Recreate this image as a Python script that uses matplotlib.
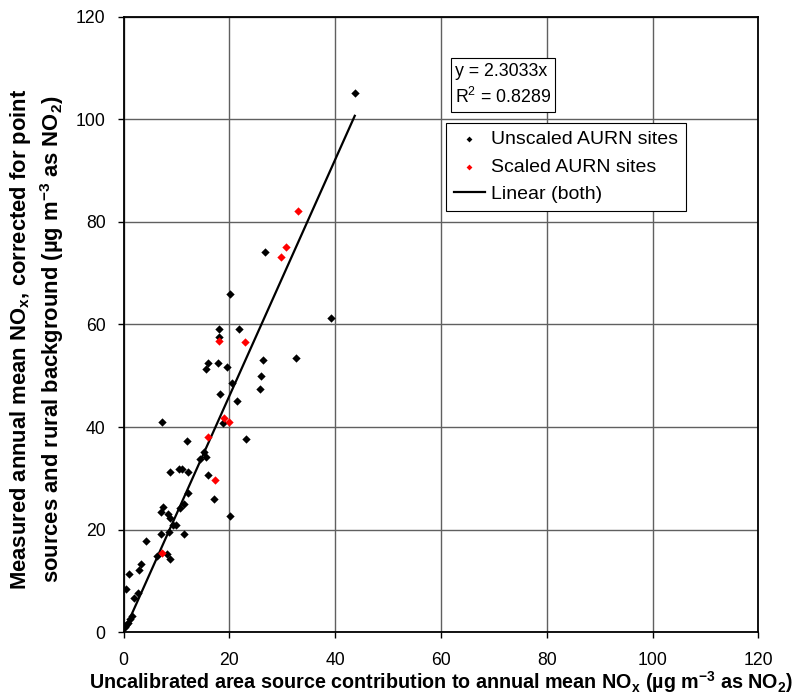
import matplotlib
matplotlib.use("Agg")
import matplotlib.pyplot as plt
import numpy as np

plt.rcParams['font.family'] = ['Liberation Sans', 'DejaVu Sans']
plt.rcParams['mathtext.fontset'] = 'custom'
plt.rcParams['mathtext.rm'] = 'Liberation Sans'
plt.rcParams['mathtext.bf'] = 'Liberation Sans:bold'

# unscaled AURN sites (black)
unscaled_x = [43.7, 26.8, 20.1, 39.2, 18.1, 21.8, 18.0, 26.3, 32.6, 15.9, 15.5,
              17.9, 19.6, 26.0, 20.4, 25.7, 18.3, 21.5, 18.7, 7.2, 23.2, 12.0,
              15.2, 15.5, 14.4, 8.8, 10.5, 11.1, 12.2, 16.0, 12.2, 17.1, 11.5,
              10.7, 7.4, 7.0, 8.3, 8.8, 20.1, 9.4, 9.9, 8.6, 7.1, 11.4, 4.2,
              6.4, 8.2, 8.8, 3.3, 2.9, 1.1, 0.4, 2.8, 1.9, 1.5, 1.2, 0.8, 0.5, 0.3]
unscaled_y = [105.1, 74.1, 65.9, 61.3, 59.1, 59.1, 57.6, 53.1, 53.5, 52.4, 51.4,
              52.4, 51.8, 50.0, 48.5, 47.4, 46.4, 45.0, 40.7, 40.9, 37.6, 37.3,
              35.1, 34.2, 33.7, 31.2, 31.9, 31.8, 31.2, 30.6, 27.2, 25.9, 25.1,
              24.2, 24.4, 23.5, 23.1, 22.3, 22.7, 20.9, 20.9, 19.5, 19.1, 19.1, 17.7,
              14.9, 15.3, 14.3, 13.3, 12.1, 11.4, 8.4, 7.6, 6.7, 3.2, 2.6, 1.9, 1.4, 1.0]

# scaled AURN sites (red)
scaled_x = [32.9, 30.7, 29.8, 18.0, 23.0, 18.9, 19.9, 16.0, 17.2, 7.3]
scaled_y = [82.1, 75.0, 73.1, 56.7, 56.5, 41.8, 41.0, 38.1, 29.6, 15.5]

slope = 2.3033
r2 = 0.8289

fig = plt.figure(figsize=(8.01, 6.95), dpi=100)
ax = fig.add_axes([0.1543, 0.0902, 0.7925, 0.886])

ax.scatter(unscaled_x, unscaled_y, marker='D', s=18, color='black', zorder=3,
           label='Unscaled AURN sites', linewidths=0)
ax.scatter(scaled_x, scaled_y, marker='D', s=18, color='red', zorder=3,
           label='Scaled AURN sites', linewidths=0)
allx = unscaled_x + scaled_x
xl = np.array([0, max(allx)])
ax.plot(xl, slope * xl, color='black', lw=1.6, zorder=2, label='Linear (both)')

ax.set_xlim(0, 120)
ax.set_ylim(0, 120)
ax.set_xticks(range(0, 121, 20))
ax.set_yticks(range(0, 121, 20))
ax.grid(True, color='#606060', lw=1)
ax.set_axisbelow(True)
for s in ax.spines.values():
    s.set_linewidth(1.3)
ax.tick_params(direction='out', length=4, width=1, labelsize=12.7)
ax.tick_params(axis='x', pad=10)
ax.tick_params(axis='y', pad=9)

ax.set_xlabel('Uncalibrated area source contribution to annual mean NO$_\\mathbf{x}$ (µg m$^\\mathbf{-3}$ as NO$_\\mathbf{2}$)',
              fontsize=14.2, fontweight='bold', labelpad=0)
ax.set_ylabel('Measured annual mean NO$_\\mathbf{x}$, corrected for point\nsources and rural background (µg m$^\\mathbf{-3}$ as NO$_\\mathbf{2}$)',
              fontsize=15.8, fontweight='bold', linespacing=1.25)
ax.yaxis.set_label_coords(-0.09, 0.476)

ax.text(0.522, 0.925, 'y = %.4fx\nR$^2$ = %.4f' % (slope, r2), transform=ax.transAxes,
        fontsize=12.8, va='top', ha='left', linespacing=1.45,
        bbox=dict(boxstyle='square,pad=0.25', fc='white', ec='black', lw=0.8))

leg = ax.legend(loc='upper left', bbox_to_anchor=(0.508, 0.827), fontsize=14,
                frameon=True, fancybox=False, edgecolor='black', framealpha=1,
                handlelength=1.6, handletextpad=0.3, borderpad=0.4,
                labelspacing=0.5, borderaxespad=0, markerscale=0.7)
leg.get_frame().set_linewidth(0.8)

fig.savefig('out.png', dpi=100)
